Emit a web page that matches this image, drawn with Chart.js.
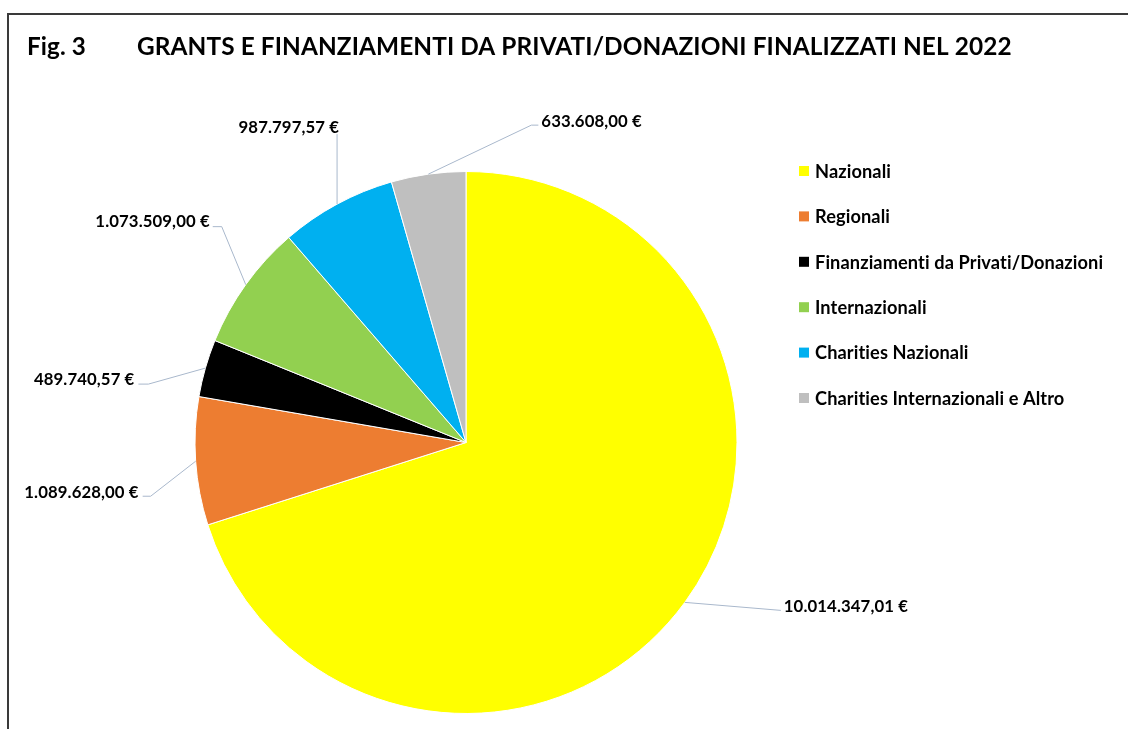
<!DOCTYPE html>
<html>
<head>
<meta charset="utf-8">
<script src="https://cdn.jsdelivr.net/npm/chart.js@4.4.1/dist/chart.umd.min.js"></script>
<style>
  html, body { margin: 0; padding: 0; background: #fff; }
  #wrap { width: 1128px; height: 729px; position: relative; }
</style>
</head>
<body>
<div id="wrap"><canvas id="pieChart" width="1128" height="729"></canvas></div>
<script>
// ── Data ──
const categories = [
  'Nazionali',
  'Regionali',
  'Finanziamenti da Privati/Donazioni',
  'Internazionali',
  'Charities Nazionali',
  'Charities Internazionali e Altro'
];
const amounts = [10014347.01, 1089628.00, 489740.57, 1073509.00, 987797.57, 633608.00];
const titleFig = 'Fig. 3';
const titleText = 'GRANTS E FINANZIAMENTI DA PRIVATI/DONAZIONI FINALIZZATI NEL 2022';

// ── Styles ──
const sliceColors = ['#FFFF00', '#ED7D31', '#000000', '#92D050', '#00B0F0', '#BFBFBF'];
const FONT = 'Lato, "Open Sans", sans-serif';
const leaderColor = '#A9B8CC';
// leader geometry per slice: elbow offset from arc edge, horizontal arm, text alignment & offset
const elbowOff  = [[96, 8], [-45, 35], [-57, 16], [-24, -58], [0, -70], [103, -49]];
const armLen    = [0, -8, -10, -9, 0, 7];
const textAlign = ['left', 'right', 'right', 'right', 'right', 'left'];
const textOff   = [[3, -4], [-4, -4], [-4, -5], [-3, -5], [2, -7], [3, -4]];

function euro(v) {
  return v.toLocaleString('de-DE', { minimumFractionDigits: 2, maximumFractionDigits: 2 }) + ' €';
}

function fitFont(ctx, text, width, weight) {
  ctx.font = weight + ' 20px ' + FONT;
  return 20 * width / ctx.measureText(text).width;
}

const decorPlugin = {
  id: 'decor',
  afterDraw(chart) {
    const ctx = chart.ctx;
    ctx.save();
    // a tiny letter spacing keeps Lato from using its "ti" ligature
    if ('letterSpacing' in ctx) ctx.letterSpacing = '0.1px';

    /* ── Frame ── */
    ctx.strokeStyle = '#3a3a3a';
    ctx.lineWidth = 2;
    ctx.beginPath();
    ctx.moveTo(8, 729);
    ctx.lineTo(8, 14);
    ctx.lineTo(1128, 14);
    ctx.stroke();

    /* ── Title ── */
    ctx.fillStyle = '#000';
    ctx.textBaseline = 'middle';
    ctx.textAlign = 'left';
    const tSize = fitFont(ctx, titleText, 877, 'bold');
    ctx.font = 'bold ' + tSize + 'px ' + FONT;
    ctx.fillText(titleText, 137, 47);
    const fSize = fitFont(ctx, titleFig, 59, 'bold');
    ctx.font = 'bold ' + fSize + 'px ' + FONT;
    ctx.fillText(titleFig, 27, 47);

    /* ── Legend ── */
    const lSize = fitFont(ctx, categories[2], 288, 'bold');
    ctx.font = 'bold ' + lSize + 'px ' + FONT;
    categories.forEach((c, i) => {
      const y = 171 + i * 45.4;
      ctx.fillStyle = sliceColors[i];
      ctx.fillRect(799, y - 5, 10, 10);
      ctx.fillStyle = '#000';
      ctx.fillText(c, 815, y + 1);
    });

    /* ── Data labels with leader lines ── */
    const dSize = fitFont(ctx, euro(amounts[0]), 124, 'bold');
    ctx.font = 'bold ' + dSize + 'px ' + FONT;
    chart.getDatasetMeta(0).data.forEach((arc, i) => {
      const p = arc.getProps(['x', 'y', 'startAngle', 'endAngle', 'outerRadius'], true);
      const mid = (p.startAngle + p.endAngle) / 2;
      const ex = p.x + Math.cos(mid) * p.outerRadius;
      const ey = p.y + Math.sin(mid) * p.outerRadius;
      const bx = ex + elbowOff[i][0];
      const by = ey + elbowOff[i][1];
      const ax = bx + armLen[i];
      ctx.strokeStyle = leaderColor;
      ctx.lineWidth = 1;
      ctx.beginPath();
      ctx.moveTo(ex, ey);
      ctx.lineTo(bx, by);
      ctx.lineTo(ax, by);
      ctx.stroke();
      ctx.fillStyle = '#000';
      ctx.textAlign = textAlign[i];
      ctx.fillText(euro(amounts[i]), ax + textOff[i][0], by + textOff[i][1]);
    });

    ctx.restore();
  }
};

new Chart(document.getElementById('pieChart').getContext('2d'), {
  type: 'pie',
  data: {
    labels: categories,
    datasets: [{
      data: amounts,
      backgroundColor: sliceColors,
      borderColor: '#ffffff',
      borderWidth: 1
    }]
  },
  options: {
    responsive: false,
    animation: false,
    layout: { padding: { top: 171, bottom: 15, left: 100, right: 296 } },
    plugins: {
      legend: { display: false },
      tooltip: { enabled: false }
    }
  },
  plugins: [decorPlugin]
});
</script>
</body>
</html>
